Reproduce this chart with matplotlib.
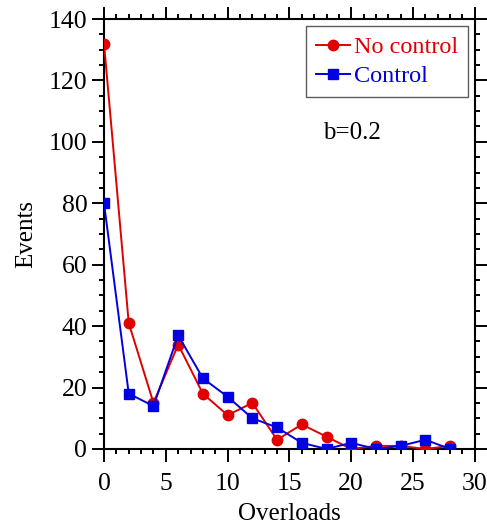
import numpy as np
import matplotlib
matplotlib.use('Agg')
import matplotlib.pyplot as plt
from matplotlib.ticker import MultipleLocator

plt.rcParams['font.family'] = ['Liberation Serif', 'DejaVu Serif']

# ===== 数据 =====
overloads = [0, 2, 4, 6, 8, 10, 12, 14, 16, 18, 20, 22, 24, 26, 28]
no_control = [132, 41, 15, 34, 18, 11, 15, 3, 8, 4, 0, 1, 1, 0, 1]
control = [80, 18, 14, 37, 23, 17, 10, 7, 2, 0, 2, 0, 1, 3, 0]

fig = plt.figure(figsize=(4.87, 5.25), dpi=100)
ax = fig.add_axes([0.2136, 0.1448, 0.7614, 0.819])

ax.plot(overloads, no_control, color='#e00000', marker='o', markersize=7.5,
        linewidth=1.4, label='No control', zorder=3)
ax.plot(overloads, control, color='#0000e0', marker='s', markersize=6.5,
        linewidth=1.4, label='Control', zorder=4)

ax.set_xlim(0, 30)
ax.set_ylim(0, 140)
ax.xaxis.set_major_locator(MultipleLocator(5))
ax.xaxis.set_minor_locator(MultipleLocator(1))
ax.yaxis.set_major_locator(MultipleLocator(20))
ax.yaxis.set_minor_locator(MultipleLocator(5))

ax.tick_params(which='both', direction='out', top=True, right=True,
               width=1.4, labelsize=18.5)
ax.tick_params(which='major', length=9)
ax.tick_params(which='minor', length=3.5)
ax.tick_params(axis='x', which='major', pad=8)
ax.tick_params(axis='y', which='major', pad=3)
for s in ax.spines.values():
    s.set_linewidth(1.5)

ax.set_xlabel('Overloads', fontsize=18, labelpad=6)
ax.set_ylabel('Events', fontsize=18, labelpad=8)

ax.text(20.1, 103, 'b=0.2', fontsize=18, ha='center', va='center')

leg = ax.legend(loc='upper right', fontsize=17.5, frameon=True, fancybox=False,
                edgecolor='#333333', handlelength=1.4, handletextpad=0.15,
                borderpad=0.4, labelspacing=0.3, borderaxespad=0.3)
leg.get_frame().set_linewidth(1.0)
for t, c in zip(leg.get_texts(), ['#e00000', '#0000e0']):
    t.set_color(c)

fig.savefig('out.png', dpi=100)
